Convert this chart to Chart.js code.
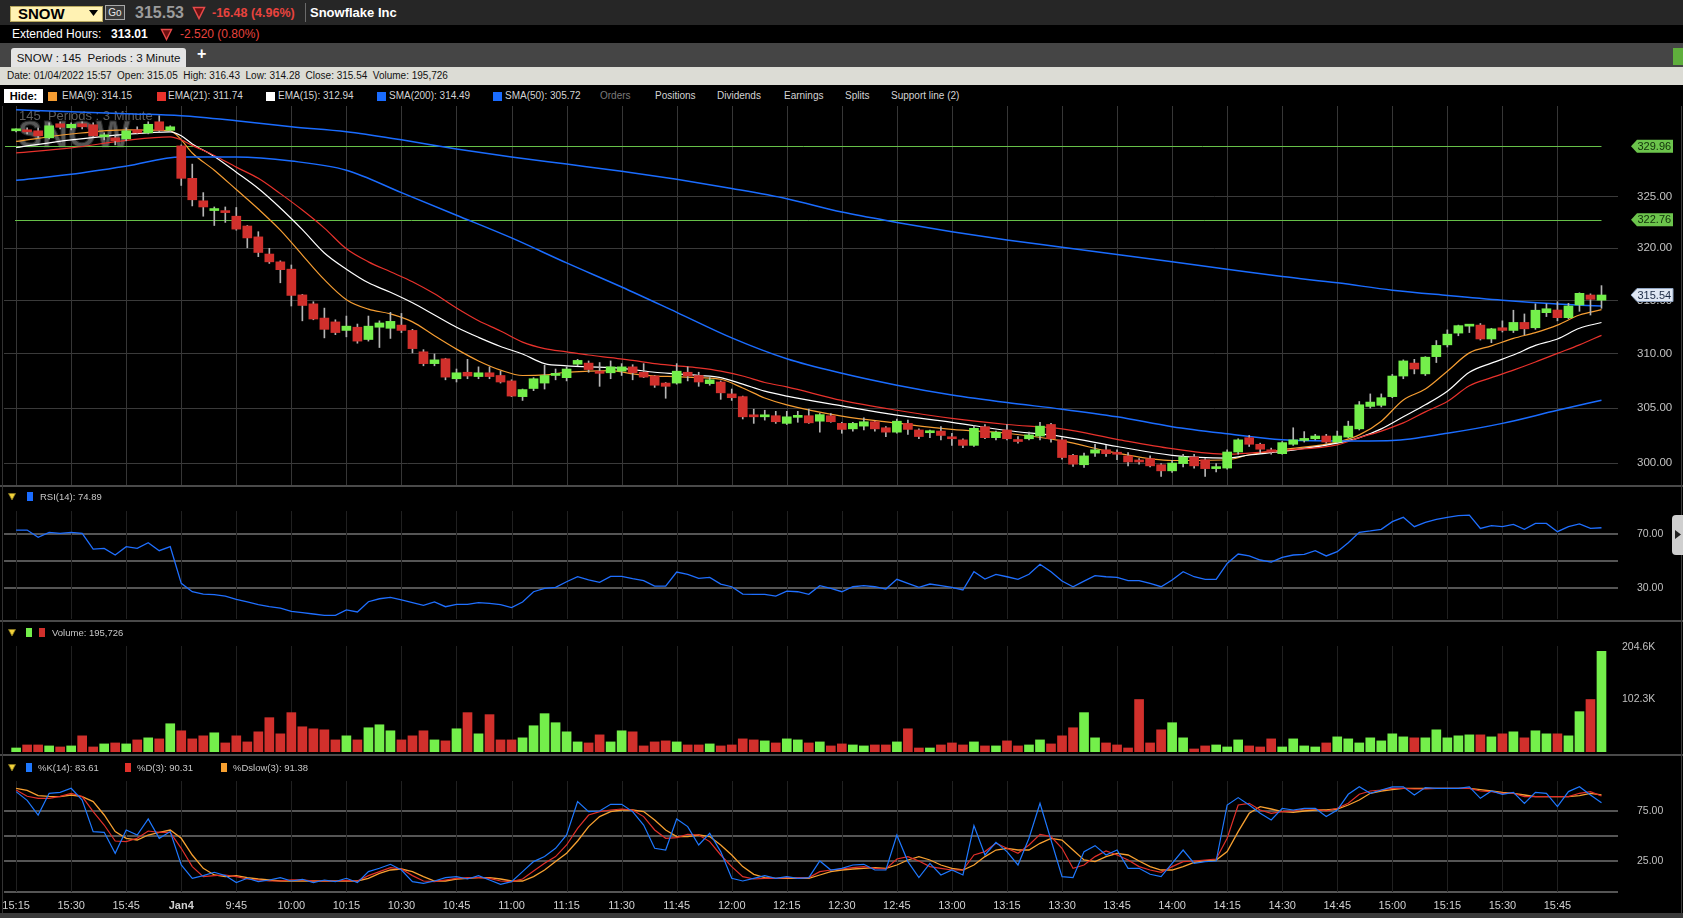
<!DOCTYPE html>
<html lang="en">
<head>
<meta charset="UTF-8">
<title>SNOW : 145 Periods : 3 Minute</title>
<script src="https://cdn.jsdelivr.net/npm/chart.js@4.4.1/dist/chart.umd.min.js"></script>
<style>
  body { margin:0; width:1683px; height:918px; overflow:hidden; background:#000; position:relative;
         font-family:"Liberation Sans", Arial, sans-serif; color:#d0d0d0; }
  .a { position:absolute; white-space:nowrap; }
  canvas { position:absolute; left:0; }
  .sq { position:absolute; top:92px; width:9px; height:9px; }
  .lg { position:absolute; top:90px; font-size:10px; line-height:12px; color:#d4d4d4; white-space:nowrap; }
  .pl { position:absolute; font-size:9.5px; line-height:12px; color:#c8c8c8; white-space:nowrap;
        font-family:"Liberation Sans Narrow","Liberation Sans",sans-serif; }
  .ps { position:absolute; width:6px; height:9px; }
  .sep { position:absolute; left:0; width:1683px; height:2px; background:#4a4a4a; }
</style>
</head>
<body>

<!-- quote bar -->
<div class="a" style="left:0;top:0;width:1683px;height:25px;background:#262626"></div>
<div class="a" style="left:10px;top:6px;width:91px;height:14px;background:#fff2b3;border:1px solid #b9a95e"></div>
<div class="a" style="left:18px;top:5px;font:bold 15px 'Liberation Sans',Arial;color:#000;line-height:17px">SNOW</div>
<svg class="a" style="left:89px;top:10px" width="9" height="7"><polygon points="0,0 9,0 4.5,6" fill="#000"/></svg>
<div class="a" style="left:105px;top:5px;width:18px;height:13px;background:#3a3a3a;border:1px solid #a8a8a8;font-size:10px;line-height:13px;color:#e8e8e8;text-align:center">Go</div>
<div class="a" style="left:135px;top:3px;font:bold 16px 'Liberation Sans',Arial;color:#9c9c9c;line-height:20px">315.53</div>
<svg class="a" style="left:192px;top:6px" width="14" height="14"><polygon points="1.5,1.5 12.5,1.5 7,12.5" fill="#6e1010" stroke="#e84a4a" stroke-width="1.5"/></svg>
<div class="a" style="left:212px;top:4px;font:bold 12.5px 'Liberation Sans',Arial;color:#e8433e;line-height:18px">-16.48 (4.96%)</div>
<div class="a" style="left:305px;top:3px;width:1px;height:19px;background:#6a6a6a"></div>
<div class="a" style="left:310px;top:4px;font:bold 13px 'Liberation Sans',Arial;color:#fff;line-height:18px">Snowflake Inc</div>

<!-- extended hours -->
<div class="a" style="left:12px;top:27px;font-size:12px;line-height:15px;color:#fff">Extended Hours:</div>
<div class="a" style="left:111px;top:27px;font:bold 12px 'Liberation Sans',Arial;line-height:15px;color:#fff">313.01</div>
<svg class="a" style="left:160px;top:28px" width="13" height="13"><polygon points="1.5,1.5 11.5,1.5 6.5,11.5" fill="#6e1010" stroke="#e84a4a" stroke-width="1.4"/></svg>
<div class="a" style="left:180px;top:27px;font-size:12px;line-height:15px;color:#e8433e">-2.520 (0.80%)</div>

<!-- tab row -->
<div class="a" style="left:0;top:43px;width:1683px;height:24px;background:#454545"></div>
<div class="a" style="left:11px;top:48px;width:175px;height:19px;background:#e4e4e4;border-radius:3px 3px 0 0;font-size:11.5px;line-height:20px;color:#111;text-align:center">SNOW : 145&nbsp; Periods : 3 Minute</div>
<div class="a" style="left:197px;top:45px;font:bold 16px 'Liberation Sans',Arial;color:#fff;line-height:18px">+</div>
<div class="a" style="left:1673px;top:48px;width:10px;height:17px;background:#5fae3c"></div>

<!-- info row -->
<div class="a" style="left:0;top:67px;width:1683px;height:18px;background:#dcdcd5"></div>
<div class="a" style="left:7px;top:67px;font-size:10px;line-height:18px;color:#111">Date: 01/04/2022 15:57&nbsp; Open: 315.05&nbsp; High: 316.43&nbsp; Low: 314.28&nbsp; Close: 315.54&nbsp; Volume: 195,726</div>

<!-- overlay legend row -->
<div class="a" style="left:4px;top:89px;width:39px;height:14px;background:#fff;font:bold 11px 'Liberation Sans',Arial;line-height:14px;color:#000;text-align:center">Hide:</div>
<div class="sq" style="left:48px;background:#f59d32"></div><div class="lg" style="left:62px">EMA(9): 314.15</div>
<div class="sq" style="left:157px;background:#e8322c"></div><div class="lg" style="left:168px">EMA(21): 311.74</div>
<div class="sq" style="left:266px;background:#ffffff"></div><div class="lg" style="left:278px">EMA(15): 312.94</div>
<div class="sq" style="left:377px;background:#1a6cff"></div><div class="lg" style="left:389px">SMA(200): 314.49</div>
<div class="sq" style="left:493px;background:#1a6cff"></div><div class="lg" style="left:505px">SMA(50): 305.72</div>
<div class="lg" style="left:600px;color:#7a7a7a">Orders</div>
<div class="lg" style="left:655px">Positions</div>
<div class="lg" style="left:717px">Dividends</div>
<div class="lg" style="left:784px">Earnings</div>
<div class="lg" style="left:845px">Splits</div>
<div class="lg" style="left:891px">Support line (2)</div>

<!-- charts -->
<canvas id="main" width="1683" height="379" style="top:106px"></canvas>
<div class="sep" style="top:485px"></div>
<canvas id="rsi" width="1683" height="133" style="top:487px"></canvas>
<div class="sep" style="top:620px"></div>
<canvas id="vol" width="1683" height="132" style="top:622px"></canvas>
<div class="sep" style="top:754px"></div>
<canvas id="stoch" width="1683" height="157" style="top:756px"></canvas>
<div class="a" style="left:0;top:913px;width:1683px;height:5px;background:#3a3a3a"></div>
<div class="a" style="left:2px;top:106px;width:1px;height:807px;background:#333"></div>
<div class="a" style="left:1681px;top:106px;width:1px;height:807px;background:#3a3a3a"></div>

<!-- panel labels -->
<svg class="a" style="left:8px;top:493px" width="8" height="8"><polygon points="0.5,0.5 7.5,0.5 4,7" fill="#f2d23a" stroke="#8a7a20" stroke-width="0.8"/></svg>
<div class="ps" style="left:27px;top:492px;background:#1a6cff"></div>
<div class="pl" style="left:40px;top:491px">RSI(14): 74.89</div>
<div class="a" style="left:1672px;top:515px;width:11px;height:40px;background:#cfcfcf;border-radius:4px 0 0 4px"></div>
<svg class="a" style="left:1675px;top:530px" width="6" height="9"><polygon points="0,0 6,4.5 0,9" fill="#222"/></svg>

<svg class="a" style="left:8px;top:629px" width="8" height="8"><polygon points="0.5,0.5 7.5,0.5 4,7" fill="#f2d23a" stroke="#8a7a20" stroke-width="0.8"/></svg>
<div class="ps" style="left:26px;top:628px;background:#74ef4b"></div>
<div class="ps" style="left:39px;top:628px;background:#d1302c"></div>
<div class="pl" style="left:52px;top:627px">Volume: 195,726</div>

<svg class="a" style="left:8px;top:764px" width="8" height="8"><polygon points="0.5,0.5 7.5,0.5 4,7" fill="#f2d23a" stroke="#8a7a20" stroke-width="0.8"/></svg>
<div class="ps" style="left:26px;top:763px;background:#1e78ff"></div>
<div class="pl" style="left:38px;top:762px">%K(14): 83.61</div>
<div class="ps" style="left:125px;top:763px;background:#e0302a"></div>
<div class="pl" style="left:137px;top:762px">%D(3): 90.31</div>
<div class="ps" style="left:221px;top:763px;background:#f7a030"></div>
<div class="pl" style="left:233px;top:762px">%Dslow(3): 91.38</div>

<script>
// ---- time axis (3 minute bars, one label every 5 bars) ----
const timeIdx = [0,5,10,15,20,25,30,35,40,45,50,55,60,65,70,75,80,85,90,95,100,105,110,115,120,125,130,135,140];
const timeLabels = ['15:15','15:30','15:45','Jan4','9:45','10:00','10:15','10:30','10:45','11:00','11:15','11:30',
  '11:45','12:00','12:15','12:30','12:45','13:00','13:15','13:30','13:45','14:00','14:15','14:30','14:45',
  '15:00','15:15','15:30','15:45'];

// ---- candles ----
const opens = [
  331.50,331.60,331.50,330.80,332.20,331.80,332.20,332.10,330.90,330.80,
  330.70,331.60,331.30,332.40,331.55,330.00,326.80,324.60,323.65,323.55,
  323.10,322.15,321.10,319.45,318.70,318.00,315.55,314.70,313.36,313.00,
  312.20,312.50,311.35,312.50,312.40,312.70,312.20,310.20,309.10,309.55,
  307.70,308.30,307.90,308.25,308.00,307.50,306.05,306.80,307.30,308.00,
  307.80,309.05,309.15,308.40,308.25,308.40,308.80,308.30,307.95,307.30,
  307.30,308.30,308.00,307.25,307.40,306.30,306.05,304.30,304.20,304.30,
  303.60,304.15,304.30,303.80,304.30,303.60,303.10,303.35,303.75,303.20,
  302.80,303.60,303.00,302.75,302.90,302.30,302.10,301.60,303.30,302.30,
  303.00,302.05,302.20,302.45,303.50,302.10,300.70,299.85,300.90,301.20,
  300.85,300.65,300.15,300.40,299.85,299.30,299.95,300.55,300.30,299.50,
  299.55,301.00,302.30,301.70,301.20,300.85,301.70,302.05,302.20,302.45,
  301.90,302.35,303.10,305.15,305.25,306.05,307.95,309.15,308.15,309.75,
  310.85,311.95,312.60,312.70,311.40,312.45,312.20,312.95,312.45,313.87,
  314.12,313.40,314.60,315.54,315.05];
const highs = [
  331.70,331.80,331.80,332.30,332.40,332.30,332.40,332.30,331.30,331.00,
  331.80,331.90,332.40,333.00,332.00,330.10,328.20,325.40,324.00,324.00,
  323.95,322.20,321.60,320.00,318.80,318.40,315.60,314.90,314.30,313.20,
  313.55,312.80,313.55,313.10,313.90,313.80,312.30,310.40,310.00,309.60,
  308.60,309.50,308.80,308.80,308.40,307.60,306.75,307.80,308.95,308.60,
  308.80,309.50,309.35,309.20,309.35,309.10,309.00,309.10,308.00,307.35,
  309.10,308.80,308.30,307.80,307.50,306.75,306.10,304.90,304.80,304.70,
  304.70,304.70,304.90,304.50,304.50,303.70,303.70,304.10,303.80,303.30,
  304.00,303.90,303.10,303.00,303.30,302.70,302.20,303.40,303.50,302.90,
  303.50,302.40,302.80,303.70,303.60,302.30,300.80,300.90,301.70,301.60,
  301.20,300.95,300.40,300.65,299.95,300.25,300.80,300.80,300.40,299.95,
  301.20,302.20,302.50,301.80,301.35,301.95,303.20,302.85,302.60,302.60,
  302.90,303.80,305.60,306.30,306.30,308.10,309.45,309.50,309.75,311.25,
  312.25,312.70,312.75,312.85,312.40,313.10,314.10,313.75,314.70,314.70,
  314.90,314.75,315.75,315.65,316.43];
const lows = [
  331.40,331.20,330.80,330.70,331.70,331.60,331.70,330.90,330.60,330.10,
  330.50,331.20,331.20,331.40,331.40,326.10,324.10,323.10,322.20,322.50,
  321.75,320.05,319.20,318.55,316.70,314.50,313.10,313.20,311.50,311.80,
  311.60,311.00,311.20,310.60,311.45,312.00,310.10,308.90,308.90,307.60,
  307.40,307.70,307.70,307.70,307.30,306.05,305.70,306.60,306.75,307.60,
  307.50,308.90,308.30,307.00,307.70,308.00,307.60,307.80,306.90,305.90,
  307.20,307.50,307.00,307.10,305.80,305.70,304.00,303.60,303.90,303.60,
  303.50,303.70,303.60,302.80,303.70,302.70,302.90,303.00,302.90,302.40,
  302.70,302.60,302.20,302.30,302.10,301.60,301.40,301.50,302.20,302.10,
  302.10,301.80,302.10,302.10,301.90,300.35,299.70,299.60,300.60,300.60,
  300.30,299.75,299.90,299.65,298.80,299.15,299.65,299.55,298.80,299.20,
  299.45,300.80,301.50,300.95,300.80,300.80,301.60,301.90,302.10,301.80,
  301.85,302.30,303.00,305.00,305.10,305.95,307.70,308.15,308.00,309.20,
  310.65,311.70,312.00,311.30,311.05,312.05,312.00,311.80,312.30,313.50,
  313.10,313.30,314.00,313.65,314.28];
const closes = [
  331.55,331.40,331.00,332.00,331.85,332.15,331.90,331.00,331.10,330.50,
  331.50,331.30,332.15,331.55,331.90,326.80,324.70,324.00,323.75,323.45,
  321.85,321.00,319.60,318.70,317.95,315.50,314.55,313.27,312.30,312.00,
  312.60,311.20,312.60,312.90,313.05,312.20,310.50,309.10,309.45,307.85,
  308.25,307.95,308.25,307.90,307.40,306.10,306.70,307.70,308.00,308.20,
  308.60,309.40,308.55,308.20,308.80,308.80,308.25,307.85,307.10,307.00,
  308.40,307.95,307.40,307.60,306.40,305.95,304.20,304.20,304.30,303.75,
  304.20,304.25,303.65,304.40,303.75,303.05,303.60,303.75,303.10,302.80,
  303.80,303.05,302.40,302.85,302.50,302.20,301.60,303.15,302.30,302.80,
  302.20,301.95,302.55,303.35,302.20,300.50,299.90,300.65,301.20,300.85,
  300.80,300.10,300.10,299.75,299.30,300.00,300.55,299.75,299.50,299.55,
  301.00,302.10,301.70,301.25,301.00,301.85,302.10,302.15,302.45,301.90,
  302.45,303.35,305.30,305.55,305.95,307.95,309.35,308.60,309.70,310.80,
  311.85,312.65,312.65,311.40,312.35,312.20,312.95,312.35,314.10,314.24,
  313.40,314.50,315.70,315.13,315.54];

// ---- overlays on the price panel (read at sampled bars) ----
const maIdx = [0,5,10,14,15,16,18,20,22,24,26,28,30,32,34,36,38,40,42,44,46,48,50,52,54,56,58,60,62,64,66,68,70,
  75,80,85,90,95,100,105,110,112,115,120,122,124,126,128,130,132,134,136,138,140,142,144];
const ema9 = [330.44,331.18,331.6,331.5,330.6,329.3,327.6,325.7,323.8,321.75,319.35,317.0,315.1,314.2,313.75,313.0,
  311.7,310.45,309.35,308.5,308.0,308.05,308.3,308.4,308.45,308.15,307.95,307.9,307.8,307.65,306.85,305.93,305.3,
  304.27,303.63,303.05,302.7,302.0,300.9,300.23,300.3,300.75,301.2,301.9,302.55,303.8,305.75,306.75,308.4,310.1,
  310.75,311.45,312.0,312.7,313.65,314.15];
const ema15 = [329.84,330.6,331.15,331.4,331.0,330.2,328.95,327.4,325.8,323.9,321.8,319.55,318.0,316.7,315.8,314.8,
  313.65,312.5,311.55,310.7,310.0,309.1,308.9,308.8,308.75,308.55,308.3,308.15,308.0,307.8,307.2,306.55,306.1,
  305.2,304.35,303.7,302.95,302.4,301.5,300.7,300.45,300.73,301.05,301.8,302.3,303.1,304.2,305.3,306.55,308.3,
  309.15,309.9,310.8,311.4,312.4,312.94];
const ema21 = [329.3,329.8,330.55,330.9,330.6,330.05,329.05,327.9,326.8,325.3,323.7,321.95,319.95,318.7,317.75,316.8,
  315.65,314.3,313.1,312.15,311.1,310.5,310.2,309.9,309.65,309.4,309.1,308.9,308.7,308.4,307.95,307.35,306.95,
  305.7,304.8,304.05,303.5,303.1,302.15,301.3,300.8,300.9,301.15,301.65,302.3,302.9,303.65,304.65,305.6,307.05,
  307.8,308.5,309.25,310.05,310.85,311.74];
const smaIdx = [0,5,10,15,20,25,30,35,40,45,50,55,60,65,70,75,80,85,90,95,100,105,110,115,120,125,130,135,140,144];
const sma200 = [333.6,333.4,333.2,333.0,332.5,331.9,331.4,330.6,329.7,328.9,328.2,327.5,326.7,325.8,324.8,323.5,
  322.5,321.6,320.8,320.1,319.4,318.7,318.0,317.3,316.7,316.0,315.5,315.05,314.7,314.49];
const sma50 = [326.6,327.2,328.0,328.9,328.9,328.5,327.6,325.4,323.2,321.0,318.6,316.3,313.9,311.5,309.55,308.2,
  307.1,306.2,305.5,304.9,304.2,303.3,302.65,302.1,302.0,302.05,302.7,303.6,304.8,305.72];
const supportLevels = [329.96, 322.76];
const priceTicks = [300, 305, 310, 315, 320, 325];

// ---- RSI(14) ----
const rsi14 = [
  73.2,73.2,67.8,71.5,70.7,71.5,70.7,59.1,59.6,54.7, 60.9,59.6,63.8,57.9,60.9,33.7,27.5,25.8,25.3,24.3,
  21.9,19.9,17.9,16.4,15.4,13.0,12.0,11.0,10.0,10.0, 14.0,12.5,20.1,22.3,23.3,21.4,19.4,17.4,19.9,16.4,
  18.1,18.1,19.4,18.9,17.9,15.7,19.9,27.5,30.0,30.7, 34.9,38.6,36.2,34.4,38.9,38.9,37.2,35.7,31.7,31.7,
  42.1,40.4,37.4,38.1,33.2,31.2,25.8,25.6,25.6,24.3, 28.0,27.5,25.6,32.0,30.0,27.5,31.2,32.0,31.2,29.5,
  36.7,33.7,30.7,33.2,32.0,30.7,28.8,42.3,36.9,40.4, 38.6,36.7,40.4,47.8,42.3,35.4,31.2,35.4,39.4,38.6,
  38.1,35.7,35.7,33.7,31.2,36.2,42.3,38.6,36.7,36.7, 48.5,55.4,54.0,51.0,49.5,53.0,54.7,55.2,57.9,54.0,
  57.2,63.8,71.5,72.5,73.7,79.4,82.6,75.7,78.9,81.1, 82.6,83.8,84.3,74.4,76.4,75.7,77.4,73.7,78.1,78.1,
  72.0,75.7,77.7,74.4,74.89];
const rsiTicks = [30, 50, 70];

// ---- volume (thousands of shares) ----
const volumeK = [
  7.8,13.7,13.7,11.8,9.8,11.8,31.4,9.8,15.7,17.6, 15.7,23.5,27.5,25.5,54.9,41.2,25.5,31.4,37.3,17.6,
  31.4,19.6,39.2,66.7,35.3,76.5,49.0,45.1,43.1,23.5, 31.4,23.5,47.1,52.9,41.2,23.5,31.4,41.2,23.5,21.6,
  45.1,76.5,35.3,72.6,23.5,23.5,27.5,51.0,74.5,56.9, 39.2,19.6,17.6,33.3,19.6,41.2,39.2,11.8,19.6,21.6,
  19.6,13.7,13.7,15.7,11.8,13.7,25.5,23.5,21.6,17.6, 25.5,23.5,17.6,19.6,11.8,15.7,13.7,11.8,13.7,13.7,
  19.6,45.1,7.8,7.8,13.7,17.6,13.7,19.6,11.8,11.8, 21.6,11.8,13.7,23.5,15.7,31.4,47.1,76.5,27.5,17.6,
  13.7,7.8,102.0,17.6,43.1,56.9,27.5,5.9,11.8,13.7, 9.8,23.5,11.8,9.8,25.5,9.8,25.5,11.8,9.8,17.6,
  29.4,25.5,17.6,27.5,21.6,35.3,29.4,27.5,27.5,43.1, 27.5,31.4,33.3,33.3,29.4,35.3,39.2,27.5,41.2,35.3,
  35.3,31.4,78.4,102.0,195.726];
const volTicks = [102.3, 204.6];

// ---- stochastic ----
const stochK = [
  94.7,86,71.3,93,94,98,86.3,54.7,54,33, 56.3,51.3,67.3,48,54.7,21.3,8,10.7,14,10.7,
  3.7,8,4.7,6.3,8.7,5.3,7,3.7,6.3,4.7, 8,3.7,14.7,18,22,16.3,4.7,3,5.3,8.7,
  9.7,7.3,10.7,6.3,2,4.7,14.7,24.7,29.7,38, 51.3,84.7,74.7,75.3,82,82,74.7,61.3,38,36.3,
  67.3,59.7,41.3,53,34.7,8,5.3,8,10.7,8, 9.7,8,8.7,25.3,16.3,18,21.3,22,16.3,16.3,
  51.3,24.7,8.7,23,11.3,16.3,11.3,60.7,31.3,44, 34.7,21.3,48,83,46.3,9.7,8.7,34.7,40.7,31.3,
  36.3,18,18,12,9.7,23,36.3,23,24.7,25.3, 81.3,88.7,81.3,73,66.3,78,76.3,78,78,69.7,
  76.3,92,99.5,93,96.3,99.5,99.5,91.3,98.7,98, 98,98,99.5,88,95.3,92,94,83,94,93,
  79.7,94.7,99.5,91.3,83.61];
const stochD = [
  96.3,90,88,88,90,93,89.7,74.7,61.3,45.3, 44.7,48,55.3,54,54,38,19.7,9.7,10.7,11.3,
  9.7,7.3,6.3,5.3,5.3,6.5,6.5,5.3,5.3,5.3, 6,5.3,10.7,14.7,18.7,17.3,10.7,5.3,4.7,6.3,
  8,8.7,8.7,8,5.3,4.7,7.3,15.3,23,29.7, 41.3,58,71.3,74.7,76.3,77.3,76.3,69.7,56.3,48,
  48.7,52,51.3,44.7,31.3,19.7,9.7,7.3,8,8, 8.7,8.7,8.7,14.7,16.3,17.3,18.7,19.7,18,17.3,
  27.3,29.7,25.3,19.7,18,16.3,16.3,31.3,34.7,43, 38,33,41.3,52,49.7,38,18,21.3,29.7,35.3,
  31.3,26.3,19.7,16.3,14,19.7,24.7,25.3,26.3,27.3, 48,81.3,83,76.3,73,74.7,75.3,77.3,77.3,75.3,
  78,83,92,95.3,96.3,98,98,97.3,97.3,98, 98,98,98,95.3,94.7,93,93,89.7,89.7,89.7,
  89.7,89.7,93,94.7,90.31];
const stochDslow = [
  98,96,90.7,90,89.7,91.3,89.7,84.7,71.3,54.7, 48,46.3,51.3,54,56.3,48,31.3,18,11.3,9.7,
  10.7,8.7,7.3,6.3,5.3,5.3,5.3,5.3,5.3,5.3, 5.3,5.3,8,13,16.3,17.3,14.7,9.7,5.3,5.3,
  7.3,8,8.7,8.7,7.3,5.3,5.3,9.7,16.3,24.7, 33,45.3,59.7,69.7,74.7,76.3,76.3,74.7,66.3,56.3,
  49.7,49.7,51.3,49.7,41.3,31.3,19.7,12,8.7,8, 8,8,8,11.3,14.7,16.3,17.3,18,18.7,18,
  21.3,26.3,29.7,26.3,21.3,18,16.3,21.3,29.7,36.3, 38,36.3,36.3,43,48,46.3,36.3,26.3,24.7,29.7,
  33,31.3,25.3,19.7,16.3,16.3,19.7,24,25.3,26.3, 34.7,54.7,73,79.7,77.3,74.7,74,75.3,76.3,76.3,
  77.3,81.3,86.3,93,95.3,96.7,98,98,98,98, 98,98,98,96.7,95.3,94,93,91.3,89.7,89.7,
  89.7,89.7,90.7,93,91.38];
const stochTicks = [25, 50, 75];

// ---------------------------------------------------------------
const GREEN = '#74ef4b', RED = '#d1302c';
const FONT = '"Liberation Sans", Arial, sans-serif';
const NARROW = '"Liberation Sans Narrow", "Liberation Sans", Arial, sans-serif';
Chart.defaults.font.family = FONT;

const N = closes.length;
const idx = closes.map((_, i) => i);
const upColors = idx.map(i => closes[i] >= opens[i] ? GREEN : RED);

const xAxis = () => ({ type: 'linear', min: -1.1, max: 145.5, display: false, offset: false });
// fixed-width value axis on the right, and no extra vertical padding from tick labels
const fixWidth = s => { s.width = 65; s.paddingTop = 0; s.paddingBottom = 0; };
const series = vals => vals.map((v, i) => ({ x: i, y: v }));
const sampled = (ix, vals) => ix.map((i, k) => ({ x: i, y: vals[k] }));

function maLine(ix, vals, color, width) {
  return { type: 'line', data: sampled(ix, vals), borderColor: color, borderWidth: width,
           pointRadius: 0, cubicInterpolationMode: 'monotone', order: 3 };
}
function plainLine(vals, color, width) {
  return { type: 'line', data: series(vals), borderColor: color, borderWidth: width,
           pointRadius: 0, tension: 0, order: 1 };
}

// vertical time grid, shared by all panels
const vgrid = {
  id: 'vgrid',
  beforeDatasetsDraw(chart, args, opts) {
    const { ctx, chartArea: a } = chart, x = chart.scales.x;
    ctx.save();
    ctx.strokeStyle = opts.color;
    ctx.lineWidth = 1;
    timeIdx.forEach(i => {
      const p = Math.round(x.getPixelForValue(i)) + 0.5;
      ctx.beginPath(); ctx.moveTo(p, a.top); ctx.lineTo(p, a.bottom); ctx.stroke();
    });
    ctx.restore();
  }
};

function priceTag(ctx, xL, py, text, fill, stroke, color) {
  ctx.beginPath();
  ctx.moveTo(xL, py); ctx.lineTo(xL + 6, py - 6.5); ctx.lineTo(xL + 42, py - 6.5);
  ctx.lineTo(xL + 42, py + 6.5); ctx.lineTo(xL + 6, py + 6.5); ctx.closePath();
  ctx.fillStyle = fill; ctx.fill();
  if (stroke) { ctx.strokeStyle = stroke; ctx.lineWidth = 1; ctx.stroke(); }
  ctx.fillStyle = color; ctx.font = '11px ' + FONT;
  ctx.textAlign = 'left'; ctx.textBaseline = 'middle';
  ctx.fillText(text, xL + 6.5, py + 0.5);
}

const mainDecor = {
  id: 'mainDecor',
  beforeDatasetsDraw(chart) {
    const { ctx, chartArea: a } = chart, x = chart.scales.x, y = chart.scales.y;
    ctx.save();
    // watermark
    ctx.font = 'bold 36px ' + FONT;
    ctx.fillStyle = '#555';
    ctx.strokeStyle = '#2a2a2a';
    ctx.lineWidth = 1;
    ctx.fillText('SNOW', 18, a.top + 41);
    ctx.strokeText('SNOW', 18, a.top + 41);
    ctx.font = '13px ' + FONT;
    ctx.fillStyle = '#5e5e5e';
    ctx.fillText('145  Periods : 3 Minute', 19, a.top + 14);
    // support lines
    ctx.strokeStyle = '#67c049';
    supportLevels.forEach((lv, k) => {
      const py = Math.round(y.getPixelForValue(lv)) + 0.5;
      ctx.beginPath(); ctx.moveTo(k === 0 ? 5 : 15, py); ctx.lineTo(x.getPixelForValue(N - 1), py); ctx.stroke();
    });
    ctx.restore();
  },
  afterDraw(chart) {
    const { ctx } = chart, y = chart.scales.y;
    ctx.save();
    supportLevels.forEach(lv => priceTag(ctx, 1631, y.getPixelForValue(lv), lv.toFixed(2), '#6cc44c', null, '#11300a'));
    priceTag(ctx, 1631, y.getPixelForValue(closes[N - 1]), closes[N - 1].toFixed(2), '#dfe7f3', '#8fa3c0', '#1b2a44');
    ctx.restore();
  }
};

const timeAxis = {
  id: 'timeAxis',
  afterDraw(chart) {
    const { ctx, chartArea: a } = chart, x = chart.scales.x;
    ctx.save();
    ctx.fillStyle = '#d0d0d0';
    ctx.textAlign = 'center'; ctx.textBaseline = 'middle';
    timeIdx.forEach((i, k) => {
      ctx.font = (timeLabels[k] === 'Jan4' ? 'bold ' : '') + '11px ' + NARROW;
      ctx.fillText(timeLabels[k], x.getPixelForValue(i), a.bottom + 14);
    });
    ctx.restore();
  }
};

const base = {
  responsive: false, animation: false, devicePixelRatio: 1, events: [],
  plugins: { legend: { display: false }, tooltip: { enabled: false } }
};

// ---- price panel ----
new Chart(document.getElementById('main'), {
  type: 'line',
  data: { datasets: [
    maLine(smaIdx, sma200, '#1a6cff', 1.5),
    maLine(smaIdx, sma50, '#1a6cff', 1.5),
    maLine(maIdx, ema21, '#e8322c', 1.2),
    maLine(maIdx, ema15, '#ffffff', 1.2),
    maLine(maIdx, ema9, '#f59d32', 1.2),
    { type: 'bar', data: idx.map(i => ({ x: i, y: [lows[i], highs[i]] })), backgroundColor: '#b4b4b4',
      barThickness: 1, grouped: false, order: 2 },
    { type: 'bar', data: idx.map(i => ({ x: i, y: [Math.min(opens[i], closes[i]), Math.max(opens[i], closes[i])] })),
      backgroundColor: upColors, barThickness: 9, minBarLength: 2, grouped: false, order: 1 }
  ]},
  options: Object.assign({}, base, {
    layout: { padding: { left: 4, right: 0, top: 0, bottom: 0 } },
    plugins: Object.assign({}, base.plugins, { vgrid: { color: '#363636' } }),
    scales: {
      x: xAxis(),
      y: { type: 'logarithmic', position: 'right', min: 298.03, max: 333.98, afterFit: fixWidth,
           afterBuildTicks: s => { s.ticks = priceTicks.map(v => ({ value: v })); },
           border: { display: false },
           grid: { color: '#3a3a3a', drawTicks: false },
           ticks: { padding: 19, color: '#c2c2c2', font: { size: 11.5 }, callback: v => Number(v).toFixed(2) } }
    }
  }),
  plugins: [vgrid, mainDecor]
});

// ---- RSI panel ----
new Chart(document.getElementById('rsi'), {
  type: 'line',
  data: { datasets: [ plainLine(rsi14, '#1f6fff', 1.3) ] },
  options: Object.assign({}, base, {
    layout: { padding: { left: 4, right: 0, top: 24, bottom: 1 } },
    plugins: Object.assign({}, base.plugins, { vgrid: { color: '#202020' } }),
    scales: {
      x: xAxis(),
      y: { position: 'right', min: 7.3, max: 87.3, afterFit: fixWidth,
           afterBuildTicks: s => { s.ticks = rsiTicks.map(v => ({ value: v })); },
           border: { display: false },
           grid: { color: '#555', lineWidth: 2, drawTicks: false },
           ticks: { padding: 19, color: '#c0c0c0', font: { size: 10.5, family: NARROW },
                    callback: v => v === 50 ? '' : Number(v).toFixed(2) } }
    }
  }),
  plugins: [vgrid]
});

// ---- volume panel ----
new Chart(document.getElementById('vol'), {
  type: 'bar',
  data: { datasets: [
    { data: series(volumeK), backgroundColor: upColors, barThickness: 9, grouped: false }
  ]},
  options: Object.assign({}, base, {
    layout: { padding: { left: 4, right: 0, top: 24, bottom: 2 } },
    plugins: Object.assign({}, base.plugins, { vgrid: { color: '#202020' } }),
    scales: {
      x: xAxis(),
      y: { position: 'right', min: 0, max: 206, afterFit: fixWidth,
           afterBuildTicks: s => { s.ticks = volTicks.map(v => ({ value: v })); },
           border: { display: false },
           grid: { display: false, drawTicks: false },
           ticks: { padding: 4, color: '#c0c0c0', font: { size: 10.5, family: NARROW },
                    callback: v => Number(v).toFixed(1) + 'K' } }
    }
  }),
  plugins: [vgrid]
});

// ---- stochastic panel ----
new Chart(document.getElementById('stoch'), {
  type: 'line',
  data: { datasets: [
    plainLine(stochK, '#1e78ff', 1.2),
    plainLine(stochD, '#e0302a', 1.2),
    plainLine(stochDslow, '#f7a030', 1.3)
  ]},
  options: Object.assign({}, base, {
    layout: { padding: { left: 4, right: 0, top: 25, bottom: 21 } },
    plugins: Object.assign({}, base.plugins, { vgrid: { color: '#202020' } }),
    scales: {
      x: xAxis(),
      y: { position: 'right', min: -5.7, max: 105.3, afterFit: fixWidth,
           afterBuildTicks: s => { s.ticks = [s.min].concat(stochTicks).map(v => ({ value: v })); },
           border: { display: false },
           grid: { color: '#555', lineWidth: 2, drawTicks: false },
           ticks: { padding: 19, color: '#c0c0c0', font: { size: 10.5, family: NARROW },
                    callback: v => (v === 25 || v === 75) ? Number(v).toFixed(2) : '' } }
    }
  }),
  plugins: [vgrid, timeAxis]
});
</script>
</body>
</html>
